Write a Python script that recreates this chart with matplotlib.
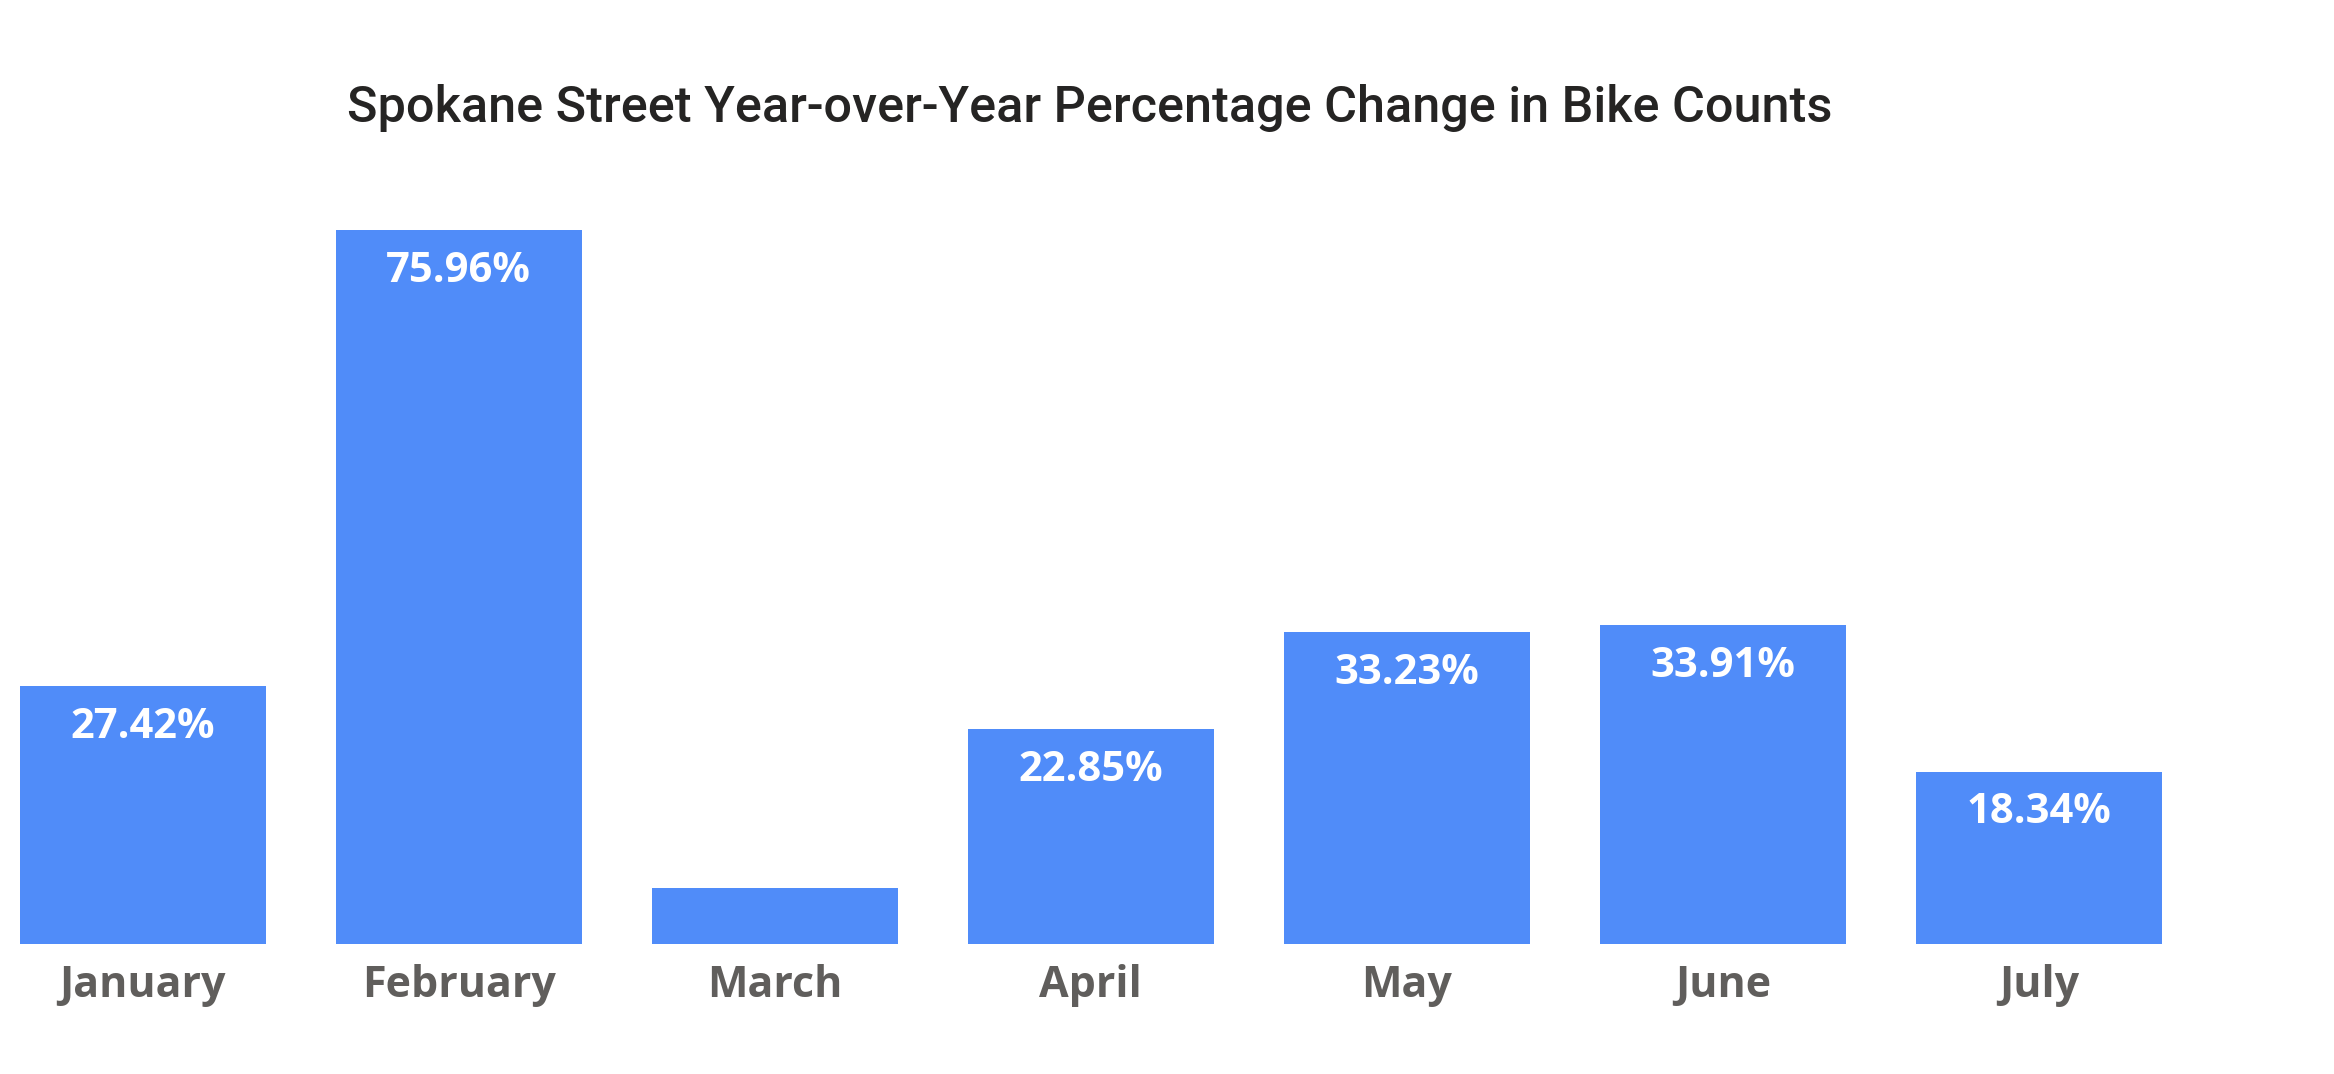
import matplotlib
matplotlib.use("Agg")
import matplotlib.pyplot as plt
import numpy as np

# values (percent change vs previous year)
months = ["January", "February", "March", "April", "May", "June", "July"]
pct_change = [27.42, 75.96, 5.93, 22.85, 33.23, 33.91, 18.34]
shown_labels = ["27.42%", "75.96%", "", "22.85%", "33.23%", "33.91%", "18.34%"]

bar_color = "#508CF9"
label_grey = "#605E5C"
title_color = "#252423"

fig = plt.figure(figsize=(23.34, 10.74), dpi=100)
ax = fig.add_axes([0, 0.1213, 1, 0.8787])

x = np.arange(len(months))
bars = ax.bar(x, pct_change, width=0.778, color=bar_color)

ax.set_xlim(-0.4516, 6.934)
ax.set_ylim(0, 100.5)

# value labels inside the top of each bar (March has none in the original)
for b, txt in zip(bars, shown_labels):
    if not txt:
        continue
    ax.annotate(txt, (b.get_x() + b.get_width() / 2, b.get_height()),
                xytext=(0, -37.4), textcoords="offset points",
                ha="center", va="baseline", color="white",
                fontsize=30, fontweight="bold", family=["Open Sans", "DejaVu Sans"])

ax.set_xticks(x, months)
ax.tick_params(axis="x", length=0, pad=38.2)
for lbl in ax.get_xticklabels():
    lbl.set_va("baseline")
    lbl.set_fontsize(31)
    lbl.set_fontweight("bold")
    lbl.set_color(label_grey)
    lbl.set_family(["Open Sans", "DejaVu Sans"])
ax.set_yticks([])
for s in ax.spines.values():
    s.set_visible(False)

fig.text(0.1486, 0.8867, "Spokane Street Year-over-Year Percentage Change in Bike Counts",
         ha="left", va="baseline", fontsize=36.3, color=title_color,
         fontweight="medium", family=["Roboto", "DejaVu Sans"])

fig.savefig("out.png", dpi=100, facecolor="white")
